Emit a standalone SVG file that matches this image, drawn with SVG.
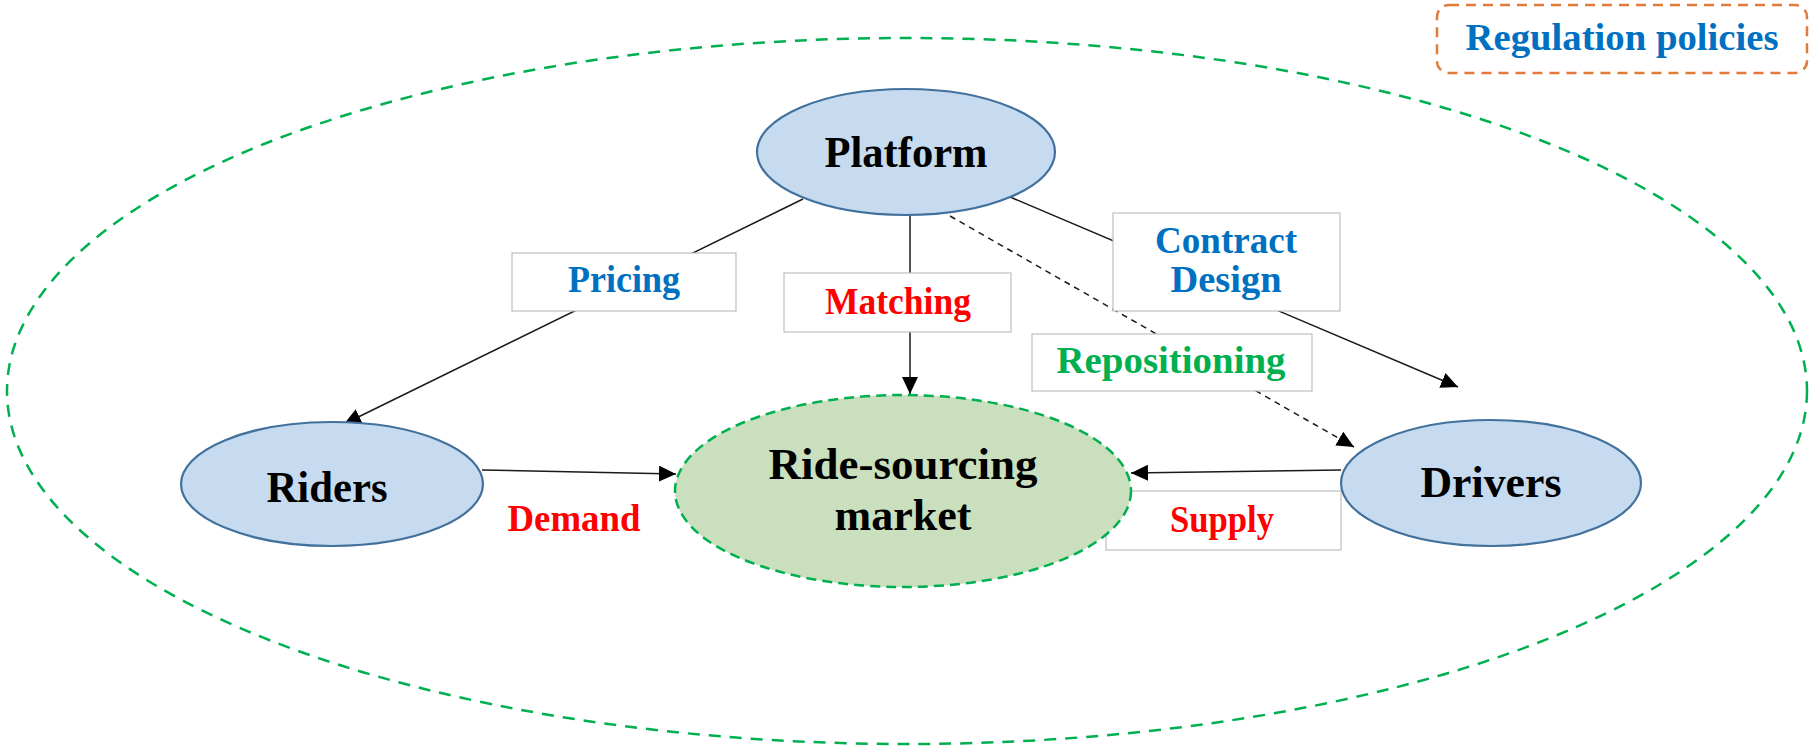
<svg xmlns="http://www.w3.org/2000/svg" width="1811" height="749" viewBox="0 0 1811 749">
  <defs>
    <marker id="arrow" markerUnits="userSpaceOnUse" markerWidth="18" markerHeight="16" refX="17" refY="8" orient="auto">
      <path d="M0,0 L17,8 L0,16 Z" fill="#000"/>
    </marker>
    <style>
      .node { fill: #c6dbf0; stroke: #41719c; stroke-width: 2.2; }
      .market { fill: #c9dfbd; stroke: #00b050; stroke-width: 2.5; stroke-dasharray: 10 6; }
      .scope { fill: none; stroke: #00b050; stroke-width: 2.5; stroke-dasharray: 12 9; }
      .nodetext { font-family: "Liberation Serif", "DejaVu Serif", serif; font-weight: bold; font-size: 44px; fill: #000; text-anchor: middle; }
      .lbl { font-family: "Liberation Serif", "DejaVu Serif", serif; font-weight: bold; font-size: 37px; text-anchor: middle; }
      .box { fill: #fff; stroke: #bfbfbf; stroke-width: 1.2; }
      .edge { stroke: #1a1a1a; stroke-width: 1.5; fill: none; }
      .dashed { stroke-dasharray: 6 5; }
      .blue { fill: #0070c0; }
      .red { fill: #ff0000; }
      .green { fill: #00b050; }
    </style>
  </defs>

  <!-- outer boundary of the regulated system -->
  <ellipse id="system-boundary" class="scope" cx="907" cy="391" rx="900" ry="353"/>

  <!-- regulation tag -->
  <g id="regulation">
    <rect x="1437" y="5" width="370" height="68" rx="12" ry="12" fill="#fff" stroke="#e07b39" stroke-width="2.5" stroke-dasharray="10 7"/>
    <text class="lbl blue" x="1622" y="50" textLength="313" lengthAdjust="spacingAndGlyphs">Regulation policies</text>
  </g>

  <!-- connectors -->
  <g id="connectors">
    <line class="edge" x1="803" y1="199" x2="344" y2="424" marker-end="url(#arrow)"/>
    <line class="edge" x1="910" y1="215" x2="910" y2="394" marker-end="url(#arrow)"/>
    <line class="edge" x1="1010" y1="197" x2="1458" y2="387" marker-end="url(#arrow)"/>
    <line class="edge dashed" x1="950" y1="216" x2="1354" y2="447" marker-end="url(#arrow)"/>
    <line class="edge" x1="482" y1="470" x2="676" y2="474" marker-end="url(#arrow)"/>
    <line class="edge" x1="1341" y1="470" x2="1131" y2="473" marker-end="url(#arrow)"/>
  </g>

  <!-- edge labels -->
  <g id="label-pricing">
    <rect class="box" x="512" y="253" width="224" height="58"/>
    <text class="lbl blue" x="624" y="292" textLength="112" lengthAdjust="spacingAndGlyphs">Pricing</text>
  </g>
  <g id="label-matching">
    <rect class="box" x="784" y="273" width="227" height="59"/>
    <text class="lbl red" x="898" y="314" textLength="146" lengthAdjust="spacingAndGlyphs">Matching</text>
  </g>
  <g id="label-contract">
    <rect class="box" x="1113" y="213" width="227" height="98"/>
    <text class="lbl blue" x="1226" y="253" textLength="142" lengthAdjust="spacingAndGlyphs">Contract</text>
    <text class="lbl blue" x="1226" y="292" textLength="111" lengthAdjust="spacingAndGlyphs">Design</text>
  </g>
  <g id="label-repositioning">
    <rect class="box" x="1032" y="334" width="280" height="57"/>
    <text class="lbl green" x="1171" y="373" textLength="229" lengthAdjust="spacingAndGlyphs">Repositioning</text>
  </g>
  <g id="label-demand">
    <text class="lbl red" x="574" y="531" textLength="133" lengthAdjust="spacingAndGlyphs">Demand</text>
  </g>
  <g id="label-supply">
    <rect class="box" x="1106" y="491" width="235" height="59"/>
    <text class="lbl red" x="1222" y="532" textLength="104" lengthAdjust="spacingAndGlyphs">Supply</text>
  </g>

  <!-- nodes -->
  <g id="platform">
    <ellipse class="node" cx="906" cy="152" rx="149" ry="63"/>
    <text class="nodetext" x="906" y="167" textLength="163" lengthAdjust="spacingAndGlyphs">Platform</text>
  </g>
  <g id="riders">
    <ellipse class="node" cx="332" cy="484" rx="151" ry="62"/>
    <text class="nodetext" x="327" y="502" textLength="121" lengthAdjust="spacingAndGlyphs">Riders</text>
  </g>
  <g id="drivers">
    <ellipse class="node" cx="1491" cy="483" rx="150" ry="63"/>
    <text class="nodetext" x="1491" y="497" textLength="141" lengthAdjust="spacingAndGlyphs">Drivers</text>
  </g>
  <g id="market">
    <ellipse class="market" cx="903" cy="491" rx="228" ry="96"/>
    <text class="nodetext" x="903" y="479" textLength="269" lengthAdjust="spacingAndGlyphs">Ride-sourcing</text>
    <text class="nodetext" x="903" y="530" textLength="137" lengthAdjust="spacingAndGlyphs">market</text>
  </g>
</svg>
